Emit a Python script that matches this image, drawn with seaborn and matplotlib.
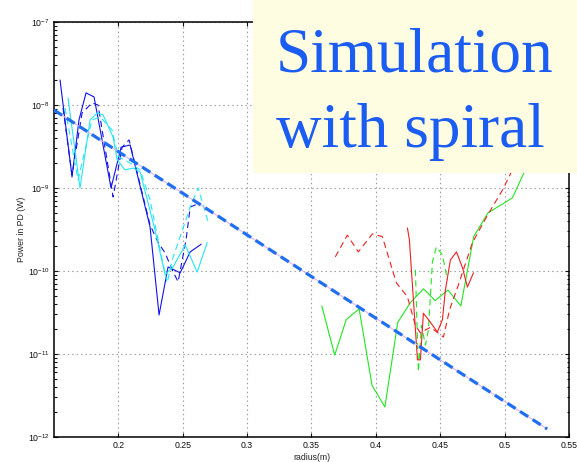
import matplotlib
matplotlib.use("Agg")
import matplotlib.pyplot as plt
from matplotlib.patches import Rectangle
from matplotlib.ticker import LogLocator, NullFormatter, NullLocator
import seaborn as sns
import pandas as pd

# ---- measured photodiode power vs. radius ----
blue_x = [0.1547, 0.1640, 0.1694, 0.1749, 0.1811, 0.1943, 0.2021, 0.2091,
          0.2246, 0.2316, 0.2386, 0.2480, 0.2558, 0.2643]
blue_p = [2.0e-8, 1.36e-9, 6.6e-9, 1.40e-8, 1.25e-8, 1.0e-9, 3.1e-9, 3.3e-9,
          3.4e-10, 2.95e-11, 1.12e-10, 9.5e-11, 1.7e-10, 2.1e-10]

blue_dash_x = [0.1570, 0.1640, 0.1718, 0.1795, 0.1842, 0.1959, 0.2029, 0.2083,
               0.2246, 0.2309, 0.2363, 0.2418, 0.2464, 0.2526, 0.2558, 0.2635]
blue_dash_p = [9.2e-9, 1.44e-9, 8.0e-9, 1.06e-8, 1.0e-8, 7.8e-10, 3.1e-9, 3.8e-9,
               3.6e-10, 2.2e-10, 1.65e-10, 1.03e-10, 7.4e-11, 2.4e-10, 5.9e-10, 6.6e-10]

cyan_x = [0.1609, 0.1702, 0.1780, 0.1834, 0.1881, 0.1959, 0.1990, 0.2052,
          0.2114, 0.2169, 0.2285, 0.2363, 0.2425, 0.2519, 0.2612, 0.2690]
cyan_p = [1.21e-8, 1.0e-9, 6.6e-9, 8.0e-9, 7.6e-9, 4.1e-9, 2.2e-9, 1.65e-9,
          1.74e-9, 1.56e-9, 3.1e-10, 9.0e-11, 1.12e-10, 2.06e-10, 9.7e-11, 2.2e-10]

cyan_dash_x = [0.1586, 0.1687, 0.1795, 0.1858, 0.1951, 0.1998, 0.2091, 0.2169,
               0.2246, 0.2324, 0.2379, 0.2418, 0.2480, 0.2558, 0.2620, 0.2697]
cyan_dash_p = [9.2e-9, 1.25e-9, 6.6e-9, 7.2e-9, 5.0e-9, 2.4e-9, 2.0e-9, 1.65e-9,
               7.2e-10, 1.8e-10, 7.2e-11, 1.36e-10, 2.6e-10, 5.9e-10, 1.0e-9, 3.9e-10]

green_x = [0.358, 0.368, 0.377, 0.387, 0.397, 0.407, 0.417, 0.427, 0.437,
           0.446, 0.456, 0.466, 0.476, 0.487, 0.506, 0.515, 0.524]
green_p = [3.8e-11, 9.7e-12, 2.6e-11, 3.5e-11, 4.2e-12, 2.3e-12, 2.4e-11, 4.2e-11,
           6.1e-11, 4.4e-11, 5.9e-11, 3.8e-11, 2.6e-10, 5.0e-10, 7.6e-10, 1.52e-9, 3.8e-9]

green_dash_x = [0.4307, 0.4330, 0.4354, 0.4385, 0.4408, 0.4439, 0.4470, 0.4517, 0.4556]
green_dash_p = [1.03e-10, 6.1e-12, 2.2e-11, 1.28e-11, 1.95e-11, 1.28e-10, 1.95e-10,
                1.56e-10, 7.8e-11]

red_x = [0.4245, 0.4260, 0.4323, 0.4346, 0.4369, 0.4408, 0.4478, 0.4517,
         0.4540, 0.4579, 0.4626, 0.4673, 0.4711, 0.4758]
red_p = [3.3e-10, 2.4e-10, 8.5e-12, 8.5e-12, 3.1e-11, 2.6e-11, 1.84e-11, 2.6e-11,
         5.9e-11, 1.36e-10, 1.7e-10, 1.09e-10, 6.4e-11, 9.5e-11]

red_dash_x = [0.3685, 0.3778, 0.3864, 0.3973, 0.4050, 0.4159, 0.4245, 0.4307, 0.4346,
              0.4424, 0.4525, 0.4572, 0.4641, 0.4750, 0.4867, 0.4984, 0.5061, 0.516]
red_dash_p = [1.48e-10, 2.7e-10, 1.7e-10, 2.8e-10, 2.6e-10, 7.2e-11, 4.9e-11, 2.2e-11,
              1.8e-11, 2.1e-11, 1.6e-11, 3.4e-11, 6.8e-11, 2.2e-10, 4.7e-10, 9.5e-10,
              1.65e-9, 3.5e-9]

# exponential decay fit (straight on a log axis)
fit_x = [0.15, 0.533]
fit_p = [8.7e-9, 1.25e-12]

x_ticks = [0.2, 0.25, 0.3, 0.35, 0.4, 0.45, 0.5, 0.55]
x_tick_labels = ["0.2", "0.25", "0.3", "0.35", "0.4", "0.45", "0.5", "0.55"]

sns.set_style("ticks")
plt.rcParams["font.family"] = ["Liberation Sans", "DejaVu Sans"]
plt.rcParams["mathtext.default"] = "regular"
plt.rcParams["lines.scale_dashes"] = False

fig = plt.figure(figsize=(5.77, 4.62), dpi=100)
ax = fig.add_axes([54 / 577, 25 / 462, 515 / 577, 415 / 462])

series = [
    (blue_x, blue_p, "#1212e8", "-"),
    (blue_dash_x, blue_dash_p, "#1212e8", (0, (4.5, 3))),
    (cyan_x, cyan_p, "#25e6f2", "-"),
    (cyan_dash_x, cyan_dash_p, "#25e6f2", (0, (4.5, 3))),
    (green_x, green_p, "#22e622", "-"),
    (green_dash_x, green_dash_p, "#22e622", (0, (4.5, 3))),
    (red_x, red_p, "#ee2020", "-"),
    (red_dash_x, red_dash_p, "#ee2020", (0, (4.5, 3))),
]
for xs, ps, col, ls in series:
    df = pd.DataFrame({"radius": xs, "power": ps})
    sns.lineplot(data=df, x="radius", y="power", color=col, linestyle=ls,
                 linewidth=0.8, sort=False, estimator=None, ax=ax, zorder=3)

fit_df = pd.DataFrame({"radius": fit_x, "power": fit_p})
sns.lineplot(data=fit_df, x="radius", y="power", color="#dcb2ee", linewidth=0.8,
             sort=False, estimator=None, ax=ax, zorder=4)
sns.lineplot(data=fit_df, x="radius", y="power", color="#1f6ff0", linewidth=2.3,
             linestyle=(0, (7, 3.8)), sort=False, estimator=None, ax=ax, zorder=5)

ax.set_yscale("log")
ax.set_xlim(0.15, 0.55)
ax.set_ylim(1e-12, 1e-7)
ax.set_xticks(x_ticks)
ax.set_xticklabels(x_tick_labels)
ax.xaxis.set_minor_locator(NullLocator())
ax.yaxis.set_major_locator(LogLocator(base=10, numticks=10))
ax.yaxis.set_minor_locator(LogLocator(base=10, subs=range(2, 10), numticks=20))
ax.yaxis.set_minor_formatter(NullFormatter())

ax.grid(True, which="major", linestyle=(0, (1, 2.2)), color="#9a9a9a", linewidth=0.8)
ax.set_axisbelow(True)

ax.tick_params(which="both", direction="in", top=True, right=True,
               labelsize=6.3, colors="#111111", width=0.8, pad=3)
ax.tick_params(which="major", length=3)
ax.tick_params(which="minor", length=1.8)
for sp in ax.spines.values():
    sp.set_linewidth(1.1)
    sp.set_color("black")

ax.set_xlabel("radius(m)", fontsize=6.3, labelpad=2)
ax.set_ylabel("Power in PD (W)", fontsize=6.3)
ax.yaxis.set_label_coords(-0.055, 0.5)

# annotation panel in the upper right
fig.patches.append(Rectangle((253 / 577, 1 - 173 / 462), 1 - 253 / 577, 173 / 462,
                             transform=fig.transFigure, facecolor="#fffde1",
                             edgecolor="none", zorder=10))
fig.text(276 / 577, 1 - 72 / 462, "Simulation", family="Liberation Serif",
         fontsize=45.5, color="#1b5cf2", ha="left", va="baseline", zorder=11)
fig.text(276 / 577, 1 - 147 / 462, "with spiral", family="Liberation Serif",
         fontsize=45.5, color="#1b5cf2", ha="left", va="baseline", zorder=11)

fig.savefig("out.png", dpi=100)
